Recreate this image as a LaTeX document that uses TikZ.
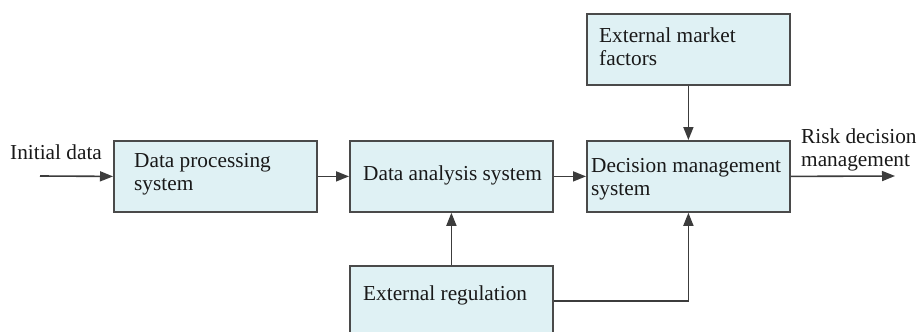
\documentclass[tikz,border=0pt]{standalone}
\usepackage{fontspec}
\setmainfont{Liberation Serif}
\usetikzlibrary{arrows.meta}
\definecolor{boxfill}{HTML}{DFF1F4}
\definecolor{boxline}{HTML}{4A4A4A}
\definecolor{arr}{HTML}{3C3C3C}
\begin{document}
\begin{tikzpicture}[x=1pt,y=-1pt,
  blk/.style={draw=boxline,fill=boxfill,line width=1.8pt,minimum width=203pt,minimum height=71pt,inner sep=0pt,anchor=north west},
  lbl/.style={anchor=base west,inner sep=0pt,align=left,font=\fontsize{21.3}{23}\selectfont,text=black!90},
  conn/.style={draw=arr,line width=1.6pt,-{Triangle[length=13pt,width=10pt]}}]
\useasboundingbox (0,0) rectangle (919,332);
\clip (0,0) rectangle (919,332);
\fill[white] (0,0) rectangle (919,332);
% boxes
\node[blk] (proc) at (113,140) {};
\node[blk] (ana) at (349,140) {};
\node[blk] (dec) at (586,140) {};
\node[blk] (mkt) at (586,13) {};
\node[blk,minimum height=70pt] (reg) at (349,265) {};
% labels (base = last line)
\node[lbl] (tproc) at (134,190) {Data processing\\system};
\node[lbl] (tana) at (363,180) {Data analysis system};
\node[lbl] (tdec) at (591,195) {Decision management\\system};
\node[lbl] (tmkt) at (599,65) {External market\\factors};
\node[lbl] (treg) at (363,300) {External regulation};
\node[lbl] (tin) at (10,159) {Initial data};
\node[lbl] (tout) at (801,166) {Risk decision\\management};
% connectors
\coordinate (in) at (40,176);
\coordinate (out) at (895,176);
\draw[conn] (in) -- (proc.west);
\draw[conn] (proc.east) -- (ana.west);
\draw[conn] (ana.east) -- (dec.west);
\draw[conn] (dec.east) -- (out);
\draw[conn] (mkt.south) -- (dec.north);
\draw[conn] (reg.north) -- (ana.south);
\draw[conn] (reg.east) -| (dec.south);
\end{tikzpicture}
\end{document}
